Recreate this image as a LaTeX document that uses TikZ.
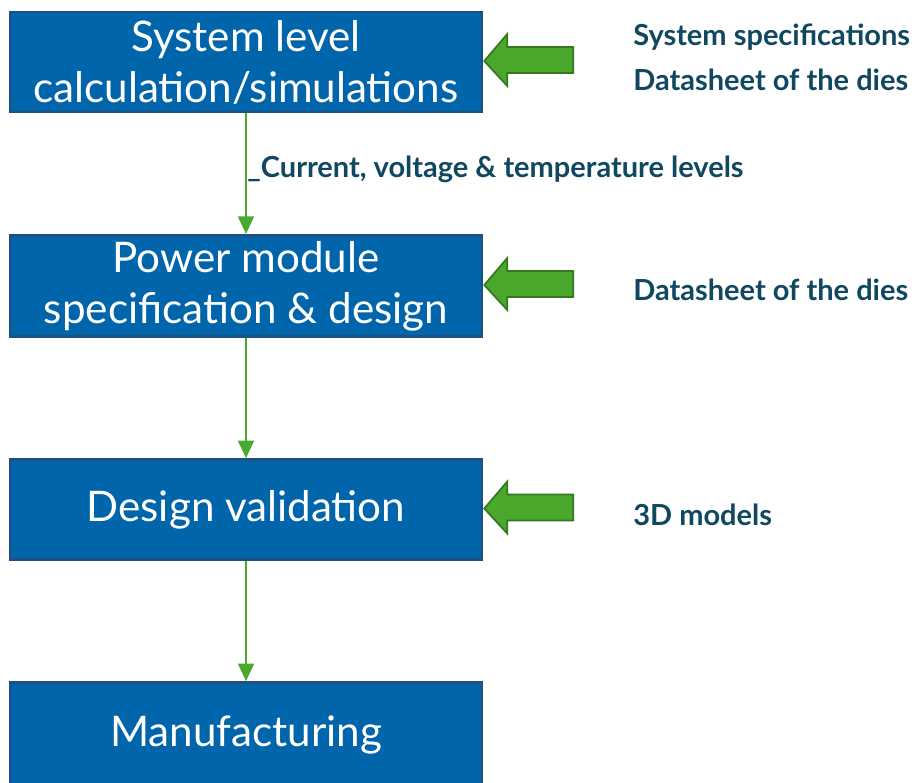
\documentclass[tikz,border=0pt]{standalone}
\usepackage{fontspec}
\setmainfont{Lato}
\usetikzlibrary{calc}
\usetikzlibrary{arrows.meta}

\definecolor{boxblue}{RGB}{0,101,171}
\definecolor{boxline}{RGB}{30,80,130}
\definecolor{flowgreen}{RGB}{74,170,48}
\definecolor{fatgreen}{RGB}{74,168,44}
\definecolor{fatline}{RGB}{52,120,32}
\definecolor{labtext}{RGB}{16,72,96}

\tikzset{
  stage/.style={draw=boxline,line width=1.5pt,fill=boxblue,text=white,
    minimum width=9.44cm,minimum height=2cm,align=center,
    font=\fontsize{24}{29}\selectfont},
  flow/.style={flowgreen,line width=1.4pt,-{Triangle[width=9pt,length=10pt]}},
  fatarrow/.style={fill=fatgreen,draw=fatline,line width=1pt,line join=miter},
  inlabel/.style={anchor=west,inner sep=0pt,text=labtext,font=\fontsize{16.5}{19}\bfseries\selectfont}
}

\begin{document}
\begin{tikzpicture}  [x=0.02cm,y=-0.02cm]

\useasboundingbox (0,0) rectangle (918,782);

\node[stage] (sys) at (246,62) {System level\\calculation/simulations};
\node[stage] (pmd) at (246,286) {Power module\\specification \& design};
\node[stage] (val) at (246,509.5) {Design validation};
\node[stage,minimum height=2.1cm] (man) at (246,735) {Manufacturing};

\draw[flow] (sys.south) -- (pmd.north);
\draw[flow] (pmd.south) -- (val.north);
\draw[flow] (val.south) -- (man.north);
\node[inlabel] (lev) at (247,169) {\_Current, voltage \& temperature levels};

\foreach \b in {sys,pmd,val}
  \draw[fatarrow] ($(\b.east)+(1,-1)$) -- ++(23,-27) -- ++(0,13) -- ++(66,0)
    -- ++(0,26) -- ++(-66,0) -- ++(0,13) -- cycle;

\node[inlabel] (spec) at (633,37) {System specifications};
\node[inlabel] (dies) at (633,80) {Datasheet of the dies};
\node[inlabel] (diesb) at (633,290) {Datasheet of the dies};
\node[inlabel] (cad) at (633,515) {3D models};

\end{tikzpicture}
\end{document}
